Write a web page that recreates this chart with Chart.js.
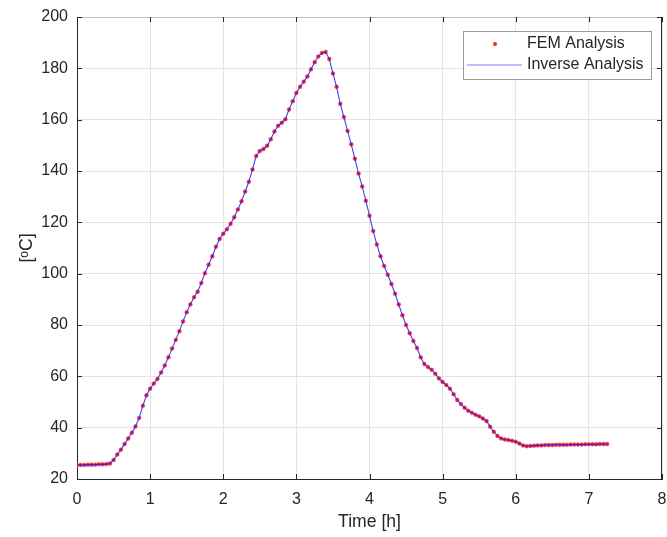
<!DOCTYPE html>
<html>
<head>
<meta charset="utf-8">
<script src="https://cdn.jsdelivr.net/npm/chart.js@4.4.0/dist/chart.umd.min.js"></script>
<style>
  html, body { margin: 0; padding: 0; background: #ffffff; }
  #wrap { width: 667px; height: 537px; overflow: hidden; }
</style>
</head>
<body>
<div id="wrap"><canvas id="chart_temperature" width="667" height="537"></canvas></div>
<script>
// time [h], one sample every 3 minutes
const timeH = [
  0.00, 0.05, 0.10, 0.15, 0.20, 0.25, 0.30, 0.35, 0.40, 0.45,
  0.50, 0.55, 0.60, 0.65, 0.70, 0.75, 0.80, 0.85, 0.90, 0.95,
  1.00, 1.05, 1.10, 1.15, 1.20, 1.25, 1.30, 1.35, 1.40, 1.45,
  1.50, 1.55, 1.60, 1.65, 1.70, 1.75, 1.80, 1.85, 1.90, 1.95,
  2.00, 2.05, 2.10, 2.15, 2.20, 2.25, 2.30, 2.35, 2.40, 2.45,
  2.50, 2.55, 2.60, 2.65, 2.70, 2.75, 2.80, 2.85, 2.90, 2.95,
  3.00, 3.05, 3.10, 3.15, 3.20, 3.25, 3.30, 3.35, 3.40, 3.45,
  3.50, 3.55, 3.60, 3.65, 3.70, 3.75, 3.80, 3.85, 3.90, 3.95,
  4.00, 4.05, 4.10, 4.15, 4.20, 4.25, 4.30, 4.35, 4.40, 4.45,
  4.50, 4.55, 4.60, 4.65, 4.70, 4.75, 4.80, 4.85, 4.90, 4.95,
  5.00, 5.05, 5.10, 5.15, 5.20, 5.25, 5.30, 5.35, 5.40, 5.45,
  5.50, 5.55, 5.60, 5.65, 5.70, 5.75, 5.80, 5.85, 5.90, 5.95,
  6.00, 6.05, 6.10, 6.15, 6.20, 6.25, 6.30, 6.35, 6.40, 6.45,
  6.50, 6.55, 6.60, 6.65, 6.70, 6.75, 6.80, 6.85, 6.90, 6.95,
  7.00, 7.05, 7.10, 7.15, 7.20, 7.25
];

// FEM analysis temperature [°C]
const femTemp = [
  25.5, 25.5, 25.5, 25.6, 25.6, 25.6, 25.7, 25.7, 25.8, 26.0,
  27.4, 29.5, 31.4, 33.6, 35.8, 38.0, 40.5, 43.8, 48.5, 52.6,
  55.2, 57.2, 59.0, 61.5, 64.2, 67.4, 70.8, 74.2, 77.6, 81.4,
  85.0, 88.0, 90.8, 93.0, 96.4, 100.2, 103.5, 106.8, 110.5, 113.5,
  115.6, 117.3, 119.4, 122.0, 125.0, 128.2, 132.0, 135.8, 140.6, 145.8,
  147.8, 148.6, 149.8, 152.4, 155.4, 157.6, 158.8, 160.2, 164.0, 167.2,
  170.4, 172.8, 174.8, 176.8, 179.6, 182.4, 184.6, 186.0, 186.4, 183.6,
  178.0, 172.8, 166.2, 161.0, 155.6, 150.4, 144.8, 139.0, 134.0, 128.4,
  122.6, 116.6, 111.4, 106.8, 103.0, 99.6, 96.0, 92.2, 88.0, 83.8,
  80.0, 76.8, 73.8, 71.0, 67.4, 64.8, 63.6, 62.6, 61.0, 59.2,
  57.8, 56.6, 55.2, 53.0, 50.8, 49.2, 47.8, 46.6, 45.8, 45.0,
  44.4, 43.6, 42.6, 40.4, 38.4, 36.8, 35.8, 35.4, 35.2, 34.9,
  34.5, 33.8, 33.1, 32.8, 32.9, 33.0, 33.1, 33.1, 33.2, 33.2,
  33.2, 33.3, 33.3, 33.3, 33.3, 33.4, 33.4, 33.4, 33.4, 33.5,
  33.5, 33.5, 33.5, 33.6, 33.6, 33.6
];

// inverse analysis follows the FEM result point for point
const inverseTemp = femTemp.slice();

const xTicks = [0, 1, 2, 3, 4, 5, 6, 7, 8];
const yTicks = [20, 40, 60, 80, 100, 120, 140, 160, 180, 200];

const legendLabels = ["FEM Analysis", "Inverse Analysis"];

const fontFamily = "'Liberation Sans', Arial, Helvetica, sans-serif";
const textColor = '#262626';

function toPoints(xs, ys) {
  let list = [];
  for (var i = 0; i < xs.length; i++) {
    list.push({ x: xs[i], y: ys[i] });
  }
  return list;
}

// box, inward tick marks and legend like a MATLAB axes
const axesBoxPlugin = {
  id: 'axesBox',
  afterDraw(chart) {
    const ctx = chart.ctx;
    const a = chart.chartArea;
    const sx = chart.scales.x;
    const sy = chart.scales.y;
    ctx.save();

    ctx.strokeStyle = '#bdbdbd';
    ctx.lineWidth = 1;
    ctx.beginPath();
    ctx.moveTo(a.left, a.top + 0.5);
    ctx.lineTo(a.right, a.top + 0.5);
    ctx.stroke();

    ctx.strokeStyle = textColor;
    ctx.beginPath();
    ctx.moveTo(a.right - 0.5, a.top);
    ctx.lineTo(a.right - 0.5, a.bottom);
    ctx.stroke();

    ctx.beginPath();
    for (var i = 0; i < xTicks.length; i++) {
      let px = Math.round(sx.getPixelForValue(xTicks[i])) + 0.5;
      ctx.moveTo(px, a.bottom);
      ctx.lineTo(px, a.bottom - 5);
      ctx.moveTo(px, a.top);
      ctx.lineTo(px, a.top + 5);
    }
    for (var j = 0; j < yTicks.length; j++) {
      let py = Math.round(sy.getPixelForValue(yTicks[j])) + 0.5;
      ctx.moveTo(a.left, py);
      ctx.lineTo(a.left + 5, py);
      ctx.moveTo(a.right, py);
      ctx.lineTo(a.right - 5, py);
    }
    ctx.stroke();

    // legend
    const lx = 463, ly = 31, lw = 188, lh = 48;
    ctx.fillStyle = '#ffffff';
    ctx.fillRect(lx, ly, lw, lh);
    ctx.strokeStyle = '#9a9a9a';
    ctx.strokeRect(lx + 0.5, ly + 0.5, lw, lh);

    ctx.fillStyle = '#ff2020';
    ctx.strokeStyle = 'rgba(255,90,90,0.5)';
    ctx.lineWidth = 1;
    ctx.beginPath();
    ctx.arc(495, 44, 1.9, 0, Math.PI * 2);
    ctx.fill();
    ctx.stroke();

    ctx.strokeStyle = '#7d7dff';
    ctx.lineWidth = 1.2;
    ctx.beginPath();
    ctx.moveTo(467, 65);
    ctx.lineTo(522, 65);
    ctx.stroke();

    ctx.fillStyle = textColor;
    ctx.font = "16px " + fontFamily;
    ctx.textBaseline = 'middle';
    ctx.textAlign = 'left';
    ctx.fillText(legendLabels[0], 527, 44);
    ctx.fillText(legendLabels[1], 527, 65);

    ctx.restore();
  }
};

new Chart(document.getElementById("chart_temperature"), {
  type: 'scatter',
  data: {
    datasets: [{
        label: legendLabels[1],
        data: toPoints(timeH, inverseTemp),
        showLine: true,
        pointRadius: 0,
        borderWidth: 1.1,
        borderColor: 'rgba(30,30,255,0.85)',
        order: 0
      },{
        label: legendLabels[0],
        data: toPoints(timeH, femTemp),
        showLine: false,
        pointRadius: 2,
        borderWidth: 1,
        borderColor: 'rgba(255,90,90,0.45)',
        backgroundColor: '#ff2020',
        order: 1
      }]
  },
  options: {
    responsive: false,
    animation: false,
    devicePixelRatio: 1,
    layout: { padding: { top: 17, right: 3, left: 0, bottom: 0 } },
    plugins: {
      legend: { display: false },
      tooltip: { enabled: false }
    },
    scales: {
      x: {
        type: 'linear',
        min: 0,
        max: 8,
        ticks: { stepSize: 1, padding: 11, color: textColor, font: { family: fontFamily, size: 16 } },
        grid: { color: '#e4e4e4', drawTicks: false },
        border: { color: textColor, width: 1 },
        title: { display: true, text: 'Time [h]', color: textColor, font: { family: fontFamily, size: 17.6 }, padding: { bottom: 4 } },
        afterFit(scale) {
          scale.height = 58;
          scale.paddingLeft = 0;
          scale.paddingRight = 0;
        }
      },
      y: {
        min: 20,
        max: 200,
        ticks: { stepSize: 20, padding: 9, color: textColor, font: { family: fontFamily, size: 16 } },
        grid: { color: '#e4e4e4', drawTicks: false },
        border: { color: textColor, width: 1 },
        title: { display: true, text: '[ᵒC]', color: textColor, font: { family: fontFamily, size: 17.6 }, padding: { top: 17 } },
        afterFit(scale) {
          scale.width = 77;
          scale.paddingTop = 0;
          scale.paddingBottom = 0;
        }
      }
    }
  },
  plugins: [axesBoxPlugin]
});
</script>
</body>
</html>
